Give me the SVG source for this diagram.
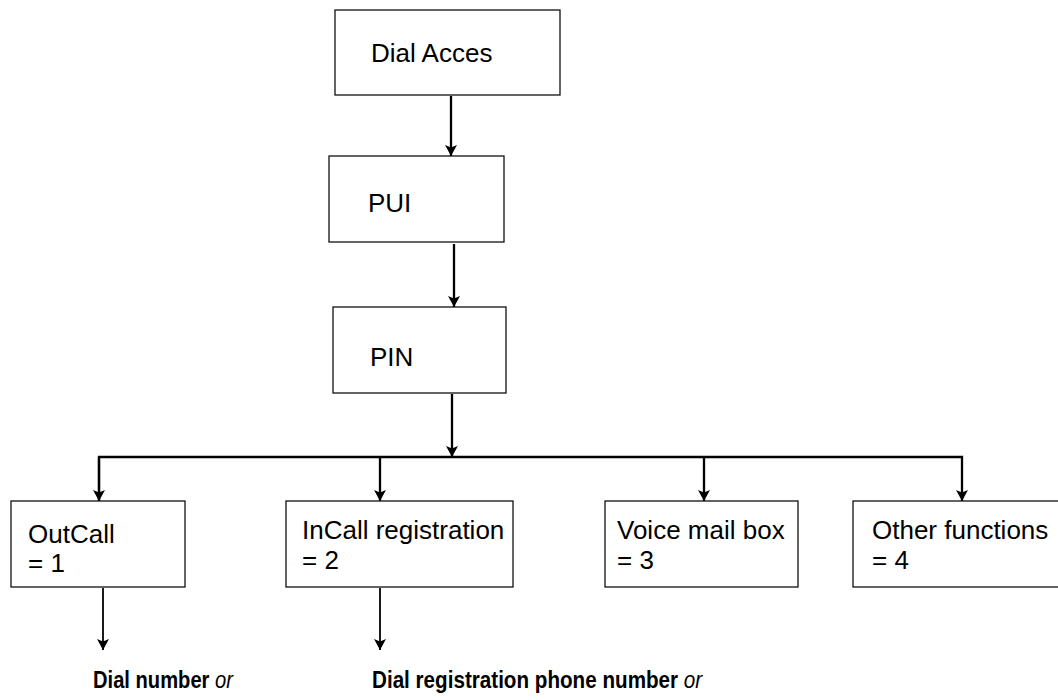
<svg xmlns="http://www.w3.org/2000/svg" width="1058" height="700" viewBox="0 0 1058 700">
<style>
.box{fill:#fff;stroke:#111;stroke-width:1.3}
.t{font-family:"Liberation Sans",Arial,sans-serif;font-size:26px;fill:#000}
.b{font-family:"Liberation Sans",Arial,sans-serif;font-size:24px;font-weight:bold;fill:#000}
.c{fill:none;stroke:#000;stroke-width:2.3}
.c2{fill:none;stroke:#000;stroke-width:1.8}
</style>
<defs>
<marker id="ah" markerUnits="userSpaceOnUse" markerWidth="14" markerHeight="14" refX="11" refY="6" orient="auto">
<path d="M0,0 L11,6 L0,12 L2.5,6 z" fill="#000"/>
</marker>
</defs>
<rect width="1058" height="700" fill="#fff"/>
<g id="connectors">
<line class="c" x1="451" y1="96" x2="451" y2="156" marker-end="url(#ah)"/>
<line class="c" x1="454" y1="244" x2="454" y2="307" marker-end="url(#ah)"/>
<line class="c" x1="452" y1="394" x2="452" y2="457" marker-end="url(#ah)"/>
<polyline class="c" points="99,501 99,457 962,457 962,501" marker-end="url(#ah)"/>
<line class="c" x1="99" y1="457" x2="99" y2="501" marker-end="url(#ah)"/>
<line class="c" x1="380" y1="457" x2="380" y2="501" marker-end="url(#ah)"/>
<line class="c" x1="704" y1="457" x2="704" y2="501" marker-end="url(#ah)"/>
<line class="c2" x1="103" y1="588" x2="103" y2="650" marker-end="url(#ah)"/>
<line class="c2" x1="380" y1="588" x2="380" y2="650" marker-end="url(#ah)"/>
</g>
<g id="dial-acces">
<rect class="box" x="335" y="10" width="225" height="85"/>
<text class="t" x="371" y="62">Dial Acces</text>
</g>
<g id="pui">
<rect class="box" x="329" y="156" width="175" height="86"/>
<text class="t" x="368" y="212">PUI</text>
</g>
<g id="pin">
<rect class="box" x="333" y="307" width="173" height="86"/>
<text class="t" x="370" y="366">PIN</text>
</g>
<g id="outcall">
<rect class="box" x="11" y="501" width="174" height="86"/>
<text class="t" x="28" y="543">OutCall</text>
<text class="t" x="28" y="572">= 1</text>
</g>
<g id="incall">
<rect class="box" x="286" y="501" width="227" height="86"/>
<text class="t" x="302" y="539">InCall registration</text>
<text class="t" x="302" y="569">= 2</text>
</g>
<g id="voicemail">
<rect class="box" x="605" y="501" width="193" height="86"/>
<text class="t" x="617" y="539">Voice mail box</text>
<text class="t" x="617" y="569">= 3</text>
</g>
<g id="other">
<rect class="box" x="853" y="501" width="220" height="86"/>
<text class="t" x="872" y="539">Other functions</text>
<text class="t" x="872" y="569">= 4</text>
</g>
<g id="dial-number">
<text class="b" transform="translate(93,688) scale(0.84,1)">Dial number<tspan font-weight="normal" font-style="italic"> or</tspan></text>
</g>
<g id="dial-registration">
<text class="b" transform="translate(372,688) scale(0.86,1)">Dial registration phone number<tspan font-weight="normal" font-style="italic"> or</tspan></text>
</g>
</svg>
